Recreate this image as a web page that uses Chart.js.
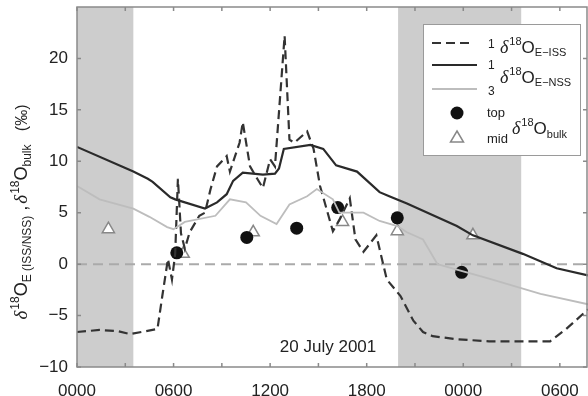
<!DOCTYPE html>
<html>
<head>
<meta charset="utf-8">
<script src="https://cdn.jsdelivr.net/npm/chart.js@4/dist/chart.umd.min.js"></script>
<style>
  html, body { margin: 0; padding: 0; background: #fff; }
  canvas { display: block; }
</style>
</head>
<body>
<canvas id="chart" width="588" height="396"></canvas>
<script>
// hours since 0000 on 20 July 2001
const issHours = [0, 1.4, 2.5, 3.3, 5.0, 5.3, 5.65, 5.9, 6.1, 6.27, 6.46, 6.7, 7.0, 7.6, 7.95, 8.3, 8.7, 9.3, 9.5, 10.1, 10.3, 10.75, 11.2, 11.55, 12.0, 12.3, 12.9, 13.2, 13.5, 14.3, 14.7, 15.1, 15.9, 16.3, 16.95, 17.3, 17.8, 18.6, 19.25, 20.1, 20.9, 21.5, 22.1, 23.6, 25.6, 27.7, 29.4, 30.4, 31.75];
const issValues = [-6.6, -6.4, -6.5, -6.8, -6.3, -3.1, 0.5, -1.5, 1.0, 8.3, 3.0, 1.5, 3.1, 4.7, 5.0, 7.3, 9.5, 10.5, 9.0, 11.8, 13.8, 9.5, 8.3, 7.4, 10.2, 9.5, 22.2, 12.1, 11.8, 12.9, 11.2, 7.6, 3.2, 4.3, 6.4, 2.4, 1.2, 2.8, -1.5, -3.1, -5.5, -6.6, -7.0, -7.3, -7.5, -7.5, -7.5, -6.3, -4.4];

const nss1Hours = [0, 3.5, 4.4, 4.7, 5.8, 6.1, 7.95, 8.7, 9.3, 9.7, 10.3, 11.55, 12.3, 12.55, 12.85, 14.5, 15.3, 16.1, 17.4, 18.8, 19.4, 20.5, 23.6, 24.6, 27.7, 29.8, 31.75];
const nss1Values = [11.4, 9.0, 8.3, 8.0, 6.5, 6.3, 5.4, 6.0, 6.8, 8.1, 8.9, 8.7, 8.8, 9.3, 11.2, 11.6, 11.2, 9.6, 9.0, 7.0, 6.6, 5.9, 3.7, 2.8, 1.0, -0.4, -1.1];

const nss3Hours = [0, 1.4, 3.5, 4.5, 5.6, 6.0, 6.7, 8.6, 9.5, 10.5, 11.4, 12.4, 13.2, 14.3, 14.9, 15.9, 16.3, 17.1, 17.8, 18.8, 19.9, 20.5, 21.5, 22.4, 25.6, 28.8, 31.75];
const nss3Values = [7.6, 6.3, 5.4, 4.6, 3.6, 3.4, 4.1, 4.7, 6.3, 6.0, 4.7, 3.9, 5.8, 6.6, 7.3, 6.3, 5.0, 5.0, 5.0, 4.2, 3.7, 3.1, 2.4, 0.0, -1.4, -2.9, -3.9];

const topHours = [6.2, 10.55, 13.65, 16.2, 19.9, 23.9];
const topValues = [1.1, 2.6, 3.5, 5.5, 4.5, -0.8];
const midHours = [1.95, 6.6, 10.95, 16.5, 19.9, 24.6];
const midValues = [3.4, 1.0, 3.1, 4.1, 3.2, 2.8];

const nightStart = [0, 19.95];
const nightEnd = [3.5, 27.6];

const xTickHours = [0, 6, 12, 18, 24, 30];
const xTickLabels = ["0000", "0600", "1200", "1800", "0000", "0600"];
const xMinorHours = [3, 9, 15, 21, 27];
const yTickValues = [-10, -5, 0, 5, 10, 15, 20];

const FONT = '"Liberation Sans", Arial, sans-serif';
const SERIF = '"Liberation Serif", "DejaVu Serif", serif';

function pts(xs, ys) {
  return xs.map((x, i) => ({ x: x, y: ys[i] }));
}

// draws a run of text pieces with their own size and vertical shift
function richWidth(ctx, segs) {
  let w = 0;
  segs.forEach((s) => {
    ctx.font = (s.italic ? "italic " : "") + s.size + "px " + (s.serif ? SERIF : FONT);
    w += ctx.measureText(s.t).width + (s.gap || 0);
  });
  return w;
}

function drawRich(ctx, segs, x, y) {
  segs.forEach((s) => {
    ctx.font = (s.italic ? "italic " : "") + s.size + "px " + (s.serif ? SERIF : FONT);
    ctx.fillText(s.t, x, y + (s.dy || 0));
    x += ctx.measureText(s.t).width + (s.gap || 0);
  });
  return x;
}

const titleSegs = [
  { t: "δ", size: 19, serif: true, italic: true, gap: 1 },
  { t: "18", size: 12, dy: -8 },
  { t: "O", size: 18 },
  { t: "E (ISS/NSS)", size: 12, dy: 4 },
  { t: " ,", size: 18, gap: 2 },
  { t: "δ", size: 19, serif: true, italic: true, gap: 1 },
  { t: "18", size: 12, dy: -8 },
  { t: "O", size: 18 },
  { t: "bulk", size: 12, dy: 4 },
  { t: "   (‰)", size: 16 },
];

const decor = {
  id: "decor",
  beforeDatasetsDraw(chart) {
    const { ctx, chartArea: a, scales: { x, y } } = chart;
    ctx.save();
    ctx.fillStyle = "#cdcdcd";
    nightStart.forEach((s, i) => {
      const x0 = Math.max(a.left, x.getPixelForValue(s));
      const x1 = Math.min(a.right, x.getPixelForValue(nightEnd[i]));
      ctx.fillRect(x0, a.top, x1 - x0, a.bottom - a.top);
    });
    // zero line
    ctx.strokeStyle = "#aaaaaa";
    ctx.lineWidth = 2;
    ctx.setLineDash([10, 6]);
    const y0 = y.getPixelForValue(0);
    ctx.beginPath();
    ctx.moveTo(a.left, y0);
    ctx.lineTo(a.right, y0);
    ctx.stroke();
    ctx.restore();
  },
  afterDraw(chart) {
    const { ctx, chartArea: a, scales: { x, y } } = chart;
    ctx.save();
    // frame and inward ticks
    ctx.strokeStyle = "#8a8a8a";
    ctx.lineWidth = 1.5;
    ctx.strokeRect(a.left, a.top, a.right - a.left - 1, a.bottom - a.top);
    ctx.beginPath();
    xTickHours.concat(xMinorHours).forEach((h) => {
      const px = x.getPixelForValue(h);
      ctx.moveTo(px, a.bottom);
      ctx.lineTo(px, a.bottom - 4);
      ctx.moveTo(px, a.top);
      ctx.lineTo(px, a.top + 4);
    });
    yTickValues.forEach((v) => {
      const py = y.getPixelForValue(v);
      ctx.moveTo(a.left, py);
      ctx.lineTo(a.left + 4, py);
      ctx.moveTo(a.right - 1, py);
      ctx.lineTo(a.right - 5, py);
    });
    ctx.stroke();

    ctx.fillStyle = "#222";
    ctx.textBaseline = "alphabetic";
    ctx.font = "17px " + FONT;
    ctx.textAlign = "center";
    ctx.fillText("20 July 2001", x.getPixelForValue(15.6), y.getPixelForValue(-8.55));
    ctx.textAlign = "left";

    // axis title, rotated
    const tw = richWidth(ctx, titleSegs);
    ctx.save();
    ctx.translate(27, 212);
    ctx.rotate(-Math.PI / 2);
    drawRich(ctx, titleSegs, -tw / 2, 0);
    ctx.restore();

    // legend
    ctx.fillStyle = "#fff";
    ctx.fillRect(423, 24, 157, 131);
    ctx.strokeStyle = "#9a9a9a";
    ctx.lineWidth = 1;
    ctx.setLineDash([]);
    ctx.strokeRect(423.5, 24.5, 157, 131);

    ctx.lineWidth = 2.2;
    ctx.strokeStyle = "#333";
    ctx.setLineDash([9, 5]);
    ctx.beginPath(); ctx.moveTo(432, 43); ctx.lineTo(474, 43); ctx.stroke();
    ctx.setLineDash([]);
    ctx.strokeStyle = "#2a2a2a";
    ctx.beginPath(); ctx.moveTo(432, 65); ctx.lineTo(477, 65); ctx.stroke();
    ctx.strokeStyle = "#bdbdbd";
    ctx.lineWidth = 1.8;
    ctx.beginPath(); ctx.moveTo(432, 89); ctx.lineTo(477, 89); ctx.stroke();

    ctx.fillStyle = "#111";
    ctx.beginPath(); ctx.arc(457, 113, 6.5, 0, Math.PI * 2); ctx.fill();
    ctx.fillStyle = "#fff";
    ctx.strokeStyle = "#888";
    ctx.lineWidth = 1.5;
    ctx.beginPath();
    ctx.moveTo(457, 131); ctx.lineTo(463.5, 142); ctx.lineTo(450.5, 142); ctx.closePath();
    ctx.fill(); ctx.stroke();

    ctx.fillStyle = "#222";
    drawRich(ctx, [{ t: "1", size: 12, gap: 7 }], 488, 48);
    drawRich(ctx, [
      { t: "δ", size: 18, serif: true, italic: true, gap: 1 },
      { t: "18", size: 11, dy: -8 },
      { t: "O", size: 17 },
      { t: "E−ISS", size: 11, dy: 3 },
    ], 500, 53);
    drawRich(ctx, [{ t: "1", size: 12 }], 488, 69);
    drawRich(ctx, [{ t: "3", size: 12 }], 488, 95);
    drawRich(ctx, [
      { t: "δ", size: 18, serif: true, italic: true, gap: 1 },
      { t: "18", size: 11, dy: -8 },
      { t: "O", size: 17 },
      { t: "E−NSS", size: 11, dy: 3 },
    ], 500, 83);
    drawRich(ctx, [{ t: "top", size: 13 }], 487, 117);
    drawRich(ctx, [{ t: "mid", size: 13 }], 487, 143);
    drawRich(ctx, [
      { t: "δ", size: 18, serif: true, italic: true, gap: 1 },
      { t: "18", size: 11, dy: -8 },
      { t: "O", size: 17 },
      { t: "bulk", size: 11, dy: 4 },
    ], 512, 134);
    ctx.restore();
  },
};

new Chart(document.getElementById("chart"), {
  type: "scatter",
  data: {
    datasets: [
      {
        label: "3 δ18O E-NSS",
        data: pts(nss3Hours, nss3Values),
        showLine: true,
        borderColor: "#bdbdbd",
        borderWidth: 1.8,
        pointRadius: 0,
      },
      {
        label: "1 δ18O E-NSS",
        data: pts(nss1Hours, nss1Values),
        showLine: true,
        borderColor: "#2a2a2a",
        borderWidth: 2.2,
        pointRadius: 0,
      },
      {
        label: "1 δ18O E-ISS",
        data: pts(issHours, issValues),
        showLine: true,
        borderColor: "#333",
        borderWidth: 2.2,
        borderDash: [9, 5],
        pointRadius: 0,
      },
      {
        label: "top δ18O bulk",
        data: pts(topHours, topValues),
        pointStyle: "circle",
        pointRadius: 6.5,
        backgroundColor: "#111",
        borderColor: "#111",
        borderWidth: 0,
      },
      {
        label: "mid δ18O bulk",
        data: pts(midHours, midValues),
        pointStyle: "triangle",
        pointRadius: 7,
        backgroundColor: "#fff",
        borderColor: "#888",
        borderWidth: 1.5,
      },
    ],
  },
  options: {
    responsive: false,
    animation: false,
    layout: { autoPadding: false, padding: { top: 7, right: 0, left: 0, bottom: 0 } },
    plugins: { legend: { display: false }, tooltip: { enabled: false } },
    scales: {
      x: {
        type: "linear",
        min: 0,
        max: 31.75,
        grid: { display: false, drawTicks: false },
        border: { display: false },
        afterBuildTicks: (s) => { s.ticks = xTickHours.map((v) => ({ value: v })); },
        afterFit: (s) => { s.height = 29; s.paddingLeft = 0; s.paddingRight = 0; },
        ticks: {
          padding: 14,
          color: "#222",
          font: { family: FONT, size: 17 },
          maxRotation: 0,
          callback: (v) => xTickLabels[xTickHours.indexOf(v)],
        },
      },
      y: {
        min: -10,
        max: 25,
        grid: { display: false, drawTicks: false },
        border: { display: false },
        afterBuildTicks: (s) => { s.ticks = yTickValues.map((v) => ({ value: v })); },
        afterFit: (s) => { s.width = 77; s.paddingTop = 0; s.paddingBottom = 0; },
        ticks: {
          padding: 9,
          color: "#222",
          font: { family: FONT, size: 17 },
          callback: (v) => (v < 0 ? "−" + Math.abs(v) : String(v)),
        },
      },
    },
  },
  plugins: [decor],
});
</script>
</body>
</html>
